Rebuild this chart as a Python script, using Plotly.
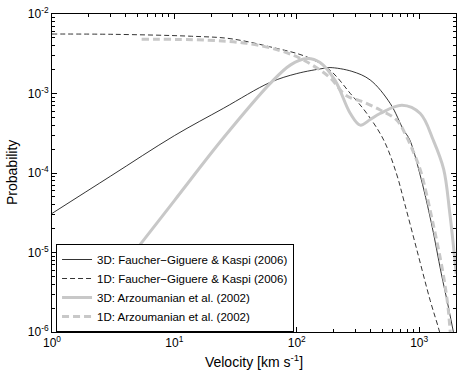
import plotly.graph_objects as go

# curva 3D Faucher-Giguere & Kaspi (2006)
vel_fgk3d = [1, 3, 10, 25.1, 60.7, 100, 165, 187, 282, 398, 580, 746, 836, 1009, 1259, 1514, 1718, 1905, 2000]
prob_fgk3d = [3.1e-5, 9.1e-5, 2.95e-4, 6.5e-4, 1.38e-3, 1.78e-3, 2.07e-3, 2.12e-3, 1.9e-3, 1.48e-3,
              7.5e-4, 3.47e-4, 2.63e-4, 1.0e-4, 2.34e-5, 5.5e-6, 2.2e-6, 1.0e-6, 7e-7]

# curva 1D Faucher-Giguere & Kaspi (2006)
vel_fgk1d = [1, 3.16, 13.8, 28.5, 60.7, 121, 187, 274, 374, 513, 650, 759, 959, 1230, 1469, 1660]
prob_fgk1d = [5.6e-3, 5.55e-3, 5.25e-3, 4.9e-3, 3.86e-3, 2.88e-3, 1.96e-3, 1.0e-3, 5.6e-4, 2.6e-4,
              1.0e-4, 4.2e-5, 1.07e-5, 2.5e-6, 1.0e-6, 4.5e-7]

# curva 3D Arzoumanian et al. (2002)
vel_arz3d = [1, 3.16, 10, 25.1, 60.7, 89, 121, 155, 206, 274, 330, 398, 479, 724, 1021, 1303, 1585, 1778, 2010]
prob_arz3d = [4.7e-7, 4.6e-6, 4.5e-5, 2.75e-4, 1.34e-3, 2.29e-3, 2.75e-3, 2.45e-3, 1.45e-3, 5.6e-4,
              4.0e-4, 4.7e-4, 5.6e-4, 7.1e-4, 5.6e-4, 2.6e-4, 1.12e-4, 3.16e-5, 5.4e-6]

# curva 1D Arzoumanian et al. (2002)
vel_arz1d = [5.4, 18, 38.9, 73, 113.5, 187, 241, 282, 330, 481, 658, 794, 959, 1040, 1297, 1567, 1718, 1795, 1862]
prob_arz1d = [4.8e-3, 4.7e-3, 4.27e-3, 3.47e-3, 2.63e-3, 1.58e-3, 1.0e-3, 8.7e-4, 8.1e-4, 6.2e-4,
              4.6e-4, 2.8e-4, 1.43e-4, 1.0e-4, 2.34e-5, 5.5e-6, 2.1e-6, 1.0e-6, 6e-7]

xticks = [1, 10, 100, 1000]
xtick_text = ['10<sup>0</sup>', '10<sup>1</sup>', '10<sup>2</sup>', '10<sup>3</sup>']
yticks = [1e-6, 1e-5, 1e-4, 1e-3, 1e-2]
ytick_text = ['10<sup>-6</sup>', '10<sup>-5</sup>', '10<sup>-4</sup>', '10<sup>-3</sup>', '10<sup>-2</sup>']

gris = '#c8c8c8'

fig = go.Figure()
fig.add_trace(go.Scatter(x=vel_fgk3d, y=prob_fgk3d, mode='lines', line_shape='spline',
                         line=dict(color='black', width=0.8),
                         name='3D: Faucher\u2212Giguere & Kaspi (2006)'))
fig.add_trace(go.Scatter(x=vel_fgk1d, y=prob_fgk1d, mode='lines', line_shape='spline',
                         line=dict(color='black', width=0.8, dash='5px,3px'),
                         name='1D: Faucher\u2212Giguere & Kaspi (2006)'))
fig.add_trace(go.Scatter(x=vel_arz3d, y=prob_arz3d, mode='lines', line_shape='spline',
                         line=dict(color=gris, width=3),
                         name='3D: Arzoumanian et al. (2002)'))
fig.add_trace(go.Scatter(x=vel_arz1d, y=prob_arz1d, mode='lines', line_shape='spline',
                         line=dict(color=gris, width=3, dash='7px,4px'),
                         name='1D: Arzoumanian et al. (2002)'))

minor_x = [m * 10 ** e for e in range(0, 4) for m in range(2, 10)]
minor_y = [m * 10.0 ** e for e in range(-6, -2) for m in range(2, 10)]

ejes = dict(showgrid=False, zeroline=False, showline=True, linecolor='black', linewidth=1,
            mirror='ticks', ticks='inside', ticklen=5, tickcolor='black', automargin=False,
            ticklabeloverflow='allow', tickfont=dict(size=12, color='black'))

fig.update_xaxes(type='log', range=[0, 3.301], tickmode='array', tickvals=xticks, ticktext=xtick_text,
                 minor=dict(tickmode='array', tickvals=minor_x, ticks='inside', ticklen=3, tickcolor='black'),
                 title=dict(text='Velocity [km s<sup>-1</sup>]', font=dict(size=14, color='black'), standoff=7),
                 **ejes)
fig.update_yaxes(type='log', range=[-6, -2], tickmode='array', tickvals=yticks, ticktext=ytick_text,
                 minor=dict(tickmode='array', tickvals=minor_y, ticks='inside', ticklen=3, tickcolor='black'),
                 **ejes)

# titulo del eje y como anotacion, para pegarlo al borde
fig.add_annotation(text='Probability', xref='paper', yref='paper', x=-0.099, y=0.5,
                   xanchor='center', yanchor='middle', textangle=-90, showarrow=False,
                   font=dict(size=14, color='black'))

fig.update_layout(width=463, height=377, margin=dict(l=52, r=7, t=14, b=45),
                  plot_bgcolor='white', paper_bgcolor='white',
                  font=dict(family='Liberation Sans, Arial, sans-serif', size=12, color='black'),
                  legend=dict(x=0.01, y=0.0, xanchor='left', yanchor='bottom',
                              bgcolor='white', bordercolor='black', borderwidth=1,
                              font=dict(size=11.5), tracegroupgap=0, itemwidth=30),
                  showlegend=True)

# sacar el margen del body para que el grafico quede en 0,0
fig.write_html("out.html", config={'displayModeBar': False},
               post_script="document.body.style.margin='0';")
